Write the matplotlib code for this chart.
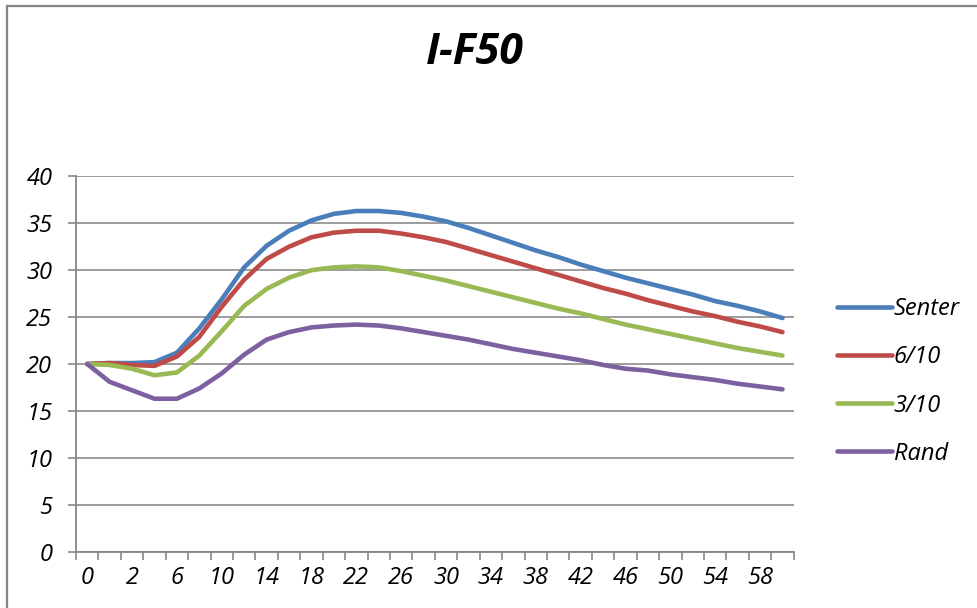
import matplotlib
matplotlib.use('Agg')
import matplotlib.pyplot as plt
from matplotlib.lines import Line2D

# ---- data ----
categories = [0, 1, 2, 4, 6, 8, 10, 12, 14, 16, 18, 20, 22, 24, 26, 28, 30,
              32, 34, 36, 38, 40, 42, 44, 46, 48, 50, 52, 54, 56, 58, 60]

senter = [20.0, 20.1, 20.1, 20.2, 21.2, 23.8, 26.9, 30.3, 32.6, 34.2, 35.3, 36.0,
          36.3, 36.3, 36.1, 35.7, 35.2, 34.5, 33.7, 32.9, 32.1, 31.4, 30.6, 29.9,
          29.2, 28.6, 28.0, 27.4, 26.7, 26.2, 25.6, 24.9]
six10 = [20.0, 20.1, 19.9, 19.8, 20.8, 22.9, 26.1, 29.0, 31.2, 32.5, 33.5, 34.0,
         34.2, 34.2, 33.9, 33.5, 33.0, 32.3, 31.6, 30.9, 30.2, 29.5, 28.8, 28.1,
         27.5, 26.8, 26.2, 25.6, 25.1, 24.5, 24.0, 23.4]
three10 = [20.0, 19.9, 19.5, 18.8, 19.1, 20.9, 23.5, 26.2, 28.0, 29.2, 30.0, 30.3,
           30.4, 30.3, 29.9, 29.4, 28.9, 28.3, 27.7, 27.1, 26.5, 25.9, 25.4, 24.8,
           24.2, 23.7, 23.2, 22.7, 22.2, 21.7, 21.3, 20.9]
rand = [20.0, 18.1, 17.2, 16.3, 16.3, 17.4, 19.0, 21.0, 22.6, 23.4, 23.9, 24.1,
        24.2, 24.1, 23.8, 23.4, 23.0, 22.6, 22.1, 21.6, 21.2, 20.8, 20.4, 19.9,
        19.5, 19.3, 18.9, 18.6, 18.3, 17.9, 17.6, 17.3]

series_names = ["Senter", "6/10", "3/10", "Rand"]
series_values = [senter, six10, three10, rand]
series_colors = ["#4A7EBB", "#BE4B48", "#98B954", "#7D60A0"]
y_ticks = [0, 5, 10, 15, 20, 25, 30, 35, 40]
title = "I-F50"

plt.rcParams['font.family'] = ['Open Sans', 'DejaVu Sans']
W, H = 978, 608
GRAY = '#878787'
FS = 17
FSPX = FS * 100 / 72

fig = plt.figure(figsize=(W / 100, H / 100), dpi=100)
left, right, top, bottom = 76, 793.7, 176.3, 551.7
ax = fig.add_axes([left / W, 1 - bottom / H, (right - left) / W, (bottom - top) / H])

xs = list(range(len(categories)))
for name, vals, col in zip(series_names, series_values, series_colors):
    ax.plot(xs, vals, color=col, lw=3.3, label=name,
            solid_joinstyle='round', solid_capstyle='round')

ax.set_xlim(-0.5, len(categories) - 0.5)
ax.set_ylim(0, 40)

# x: labels on every other category, tick marks at category boundaries
label_pos = xs[::2]
ax.set_xticks(label_pos)
ax.set_xticklabels([str(categories[i]) for i in label_pos])
ax.set_xticks([i - 0.5 for i in range(len(categories) + 1)], minor=True)
ax.tick_params(axis='x', which='major', length=0, pad=10, labelsize=FS)
ax.tick_params(axis='x', which='minor', length=6, width=1.2, color=GRAY)

ax.set_yticks(y_ticks)
ax.set_yticklabels([str(v) for v in y_ticks])
ax.tick_params(axis='y', which='major', length=6, width=1.2, color=GRAY, pad=11, labelsize=FS)

for lab in ax.get_xticklabels() + ax.get_yticklabels():
    lab.set_style('italic')

ax.yaxis.grid(True, color='#8c8c8c', lw=1.2)
ax.set_axisbelow(True)
for s in ['top', 'right']:
    ax.spines[s].set_visible(False)
for s in ['left', 'bottom']:
    ax.spines[s].set_color(GRAY)
    ax.spines[s].set_linewidth(1.3)

hl = 55 / FSPX
leg = ax.legend(loc='center left', bbox_to_anchor=(825 / W, 1 - 381.5 / H),
                bbox_transform=fig.transFigure, frameon=False, borderpad=0,
                handlelength=hl, handletextpad=0.08, labelspacing=1.02,
                prop={'size': FS, 'style': 'italic'})
for h in leg.get_lines():
    h.set_linewidth(3.3)
    h.set_solid_capstyle('round')

fig.text(475 / W, 1 - 52 / H, title, ha='center', va='center', fontsize=31,
         weight='bold', style='italic')

# chart-area border (left and top visible)
fig.add_artist(Line2D([6.7 / W, 6.7 / W], [0, 1 - 5.7 / H], transform=fig.transFigure,
                      color=GRAY, lw=1.6))
fig.add_artist(Line2D([6.7 / W, 1], [1 - 5.7 / H, 1 - 5.7 / H], transform=fig.transFigure,
                      color=GRAY, lw=1.6))

fig.savefig('out.png', dpi=100)
